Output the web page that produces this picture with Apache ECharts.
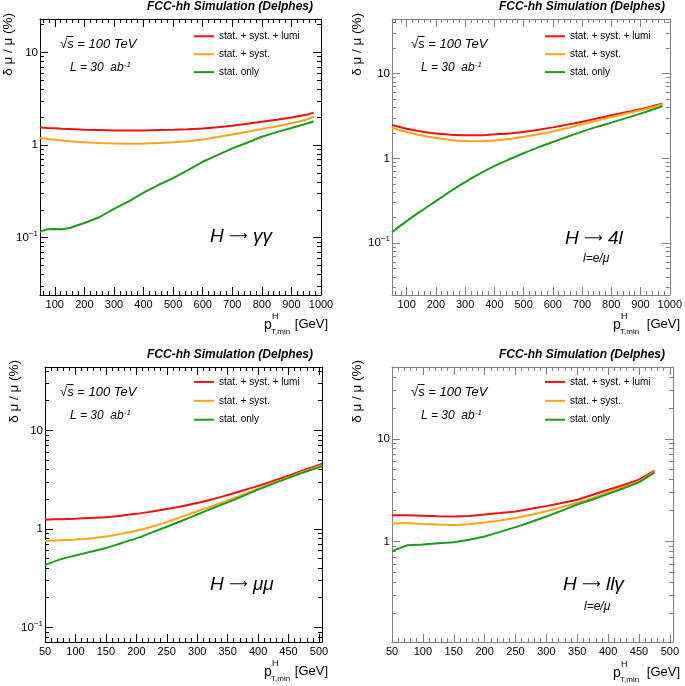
<!DOCTYPE html>
<html><head><meta charset="utf-8">
<script src="https://cdn.jsdelivr.net/npm/echarts@6/dist/echarts.min.js"></script>
<style>html,body{margin:0;padding:0;background:#fff}#c{width:685px;height:686px}</style>
</head><body><div id="c"></div><script>
// ---------- data ----------
const seriesNames = ['stat. + syst. + lumi', 'stat. + syst.', 'stat. only'];

// H -> gamma gamma
const xGG = [50,75,100,125,150,200,250,300,350,400,450,500,550,600,650,700,750,800,850,900,950,975];
const redGG = [1.55,1.53,1.52,1.50,1.49,1.46,1.45,1.44,1.44,1.44,1.45,1.46,1.48,1.51,1.56,1.62,1.70,1.79,1.88,1.98,2.12,2.24];
const orangeGG = [1.19,1.16,1.14,1.12,1.10,1.07,1.05,1.04,1.035,1.04,1.05,1.07,1.10,1.15,1.22,1.30,1.39,1.49,1.60,1.72,1.88,2.02];
const greenGG = [0.116,0.123,0.124,0.123,0.127,0.144,0.166,0.204,0.247,0.306,0.37,0.44,0.537,0.66,0.78,0.92,1.06,1.23,1.38,1.53,1.70,1.80];

// H -> 4l
const x4l = [50,100,150,200,250,300,350,400,450,500,550,600,650,700,750,800,850,900,950,975];
const red4l = [2.48,2.24,2.08,1.96,1.90,1.87,1.87,1.92,1.97,2.05,2.17,2.32,2.50,2.71,2.95,3.22,3.50,3.79,4.20,4.45];
const orange4l = [2.28,2.05,1.87,1.74,1.65,1.60,1.59,1.62,1.69,1.80,1.93,2.08,2.28,2.52,2.78,3.08,3.38,3.69,4.10,4.34];
const green4l = [0.135,0.182,0.24,0.313,0.41,0.525,0.66,0.81,0.97,1.15,1.35,1.56,1.80,2.07,2.35,2.64,2.98,3.37,3.85,4.15];

// H -> mu mu
const xMM = [50,75,100,125,150,175,200,225,250,275,300,325,350,375,400,425,450,475,505];
const redMM = [1.24,1.255,1.27,1.29,1.31,1.36,1.42,1.50,1.59,1.70,1.83,2.00,2.21,2.45,2.73,3.07,3.47,3.95,4.56];
const orangeMM = [0.755,0.765,0.78,0.80,0.836,0.89,0.955,1.05,1.17,1.33,1.51,1.71,1.94,2.23,2.56,2.93,3.34,3.83,4.42];
const greenMM = [0.43,0.49,0.537,0.585,0.64,0.715,0.80,0.915,1.05,1.21,1.40,1.62,1.86,2.15,2.50,2.88,3.29,3.75,4.32];

// H -> ll gamma
const xLLG = [50,75,100,125,150,175,200,225,250,275,300,325,350,375,400,425,450,475];
const redLLG = [1.80,1.80,1.78,1.76,1.75,1.77,1.83,1.89,1.96,2.08,2.21,2.37,2.55,2.85,3.19,3.55,4.00,4.90];
const orangeLLG = [1.50,1.51,1.48,1.46,1.45,1.47,1.53,1.60,1.69,1.82,1.97,2.16,2.38,2.66,3.02,3.40,3.84,4.81];
const greenLLG = [0.805,0.92,0.935,0.96,0.985,1.04,1.12,1.24,1.38,1.55,1.75,2.00,2.29,2.56,2.91,3.30,3.76,4.70];

// tick labels
const xLabelsWide = [100,200,300,400,500,600,700,800,900,1000];
const xLabelsNarrow = [50,100,150,200,250,300,350,400,450,500];
const yDecades = [0.1, 1, 10];

// ---------- helpers ----------
const FONT = '"Liberation Sans", Arial, Helvetica, sans-serif';
const colors = ['#ee1111', '#ffa31a', '#1e9a1e'];

function minorsBetween(min, max, step, majorStep) {
  const out = [];
  for (let v = Math.ceil(min / step) * step; v <= max + 1e-9; v += step) {
    if (Math.abs(v / majorStep - Math.round(v / majorStep)) > 1e-6) out.push(+v.toFixed(6));
  }
  return out;
}
function logMinors(min, max) {
  const out = [];
  for (let e = -3; e <= 3; e++) for (let m = 2; m <= 9; m++) {
    const v = m * Math.pow(10, e);
    if (v >= min && v <= max) out.push(+v.toPrecision(6));
  }
  return out;
}

const panels = [
  { grid: {left: 40, top: 19, width: 281, height: 276}, xMin: 50, xMax: 1000, xMajor: xLabelsWide, minorStep: 20, majorStep: 100,
    yMin: 0.024, yMax: 23, frame: '#000', smooth: false,
    x: xGG, ys: [redGG, orangeGG, greenGG],
    titleX: 313, titleY: 7, sX: 60, sY: 44, lX: 70, lY: 68,
    legend: {left: 193, top: 30.7, gap: 6.7},
    decay: ['H', 'γγ'], decayX: 210, decayY: 237, sub: null,
    yTitleX: 8.5, yTitleY: 13, pX: 264, pY: 325, gevR: 328 },
  { grid: {left: 392, top: 19, width: 280, height: 276}, xMin: 50, xMax: 1000, xMajor: xLabelsWide, minorStep: 20, majorStep: 100,
    yMin: 0.0245, yMax: 44, frame: '#808080', smooth: 0.3,
    x: x4l, ys: [red4l, orange4l, green4l],
    titleX: 665, titleY: 7, sX: 411, sY: 44, lX: 421, lY: 68,
    legend: {left: 544, top: 30.7, gap: 6.7},
    decay: ['H', '4l'], decayX: 565, decayY: 239, sub: 'l=e/μ', subX: 583, subY: 259,
    yTitleX: 357.5, yTitleY: 13, pX: 613, pY: 325, gevR: 680 },
  { grid: {left: 45, top: 367, width: 277, height: 275}, xMin: 50, xMax: 505, xMajor: xLabelsNarrow, minorStep: 10, majorStep: 50,
    yMin: 0.071, yMax: 44, frame: '#000', smooth: 0.3,
    x: xMM, ys: [redMM, orangeMM, greenMM],
    titleX: 313, titleY: 355, sX: 60, sY: 392, lX: 70, lY: 416,
    legend: {left: 193, top: 376.3, gap: 7.7},
    decay: ['H', 'μμ'], decayX: 210, decayY: 585, sub: null,
    yTitleX: 14.5, yTitleY: 360, pX: 264, pY: 672, gevR: 328 },
  { grid: {left: 392, top: 367, width: 281, height: 275}, xMin: 50, xMax: 505, xMajor: xLabelsNarrow, minorStep: 10, majorStep: 50,
    yMin: 0.105, yMax: 50, frame: '#808080', smooth: false,
    x: xLLG, ys: [redLLG, orangeLLG, greenLLG],
    titleX: 665, titleY: 355, sX: 411, sY: 392, lX: 421, lY: 416,
    legend: {left: 544, top: 376.3, gap: 7.7},
    decay: ['H', 'llγ'], decayX: 563, decayY: 585, sub: 'l=e/μ', subX: 584, subY: 607,
    yTitleX: 357.5, yTitleY: 360, pX: 613, pY: 673, gevR: 680 }
];

const grids = [], xAxes = [], yAxes = [], series = [], legends = [], graphics = [];

function yFmt(v) {
  const e = Math.round(Math.log10(v));
  if (e === 0) return '1';
  if (e === 1) return '10';
  return '{b|10}{s|−' + (-e) + '}';
}

panels.forEach((p, gi) => {
  grids.push(Object.assign({containLabel: false}, p.grid));
  const xMinor = minorsBetween(p.xMin, p.xMax, p.minorStep, p.majorStep);
  const yMaj = yDecades.filter(v => v >= p.yMin && v <= p.yMax);
  const yMin = logMinors(p.yMin, p.yMax);
  const tick = (vals, len) => ({show: true, inside: true, length: len, customValues: vals, lineStyle: {color: p.frame, width: 1}});
  const xb = {gridIndex: gi, type: 'value', min: p.xMin, max: p.xMax, splitLine: {show: false}};
  const aline = {show: true, lineStyle: {color: p.frame, width: 1}};
  xAxes.push(
    Object.assign({}, xb, {position: 'bottom', axisLine: aline, axisTick: tick(p.xMajor, 8),
      axisLabel: {show: true, customValues: p.xMajor, margin: 4, fontSize: 11, color: '#000', fontFamily: FONT,
        formatter: v => String(Math.round(v))}}),
    Object.assign({}, xb, {position: 'bottom', axisLine: {show: false}, axisTick: tick(xMinor, 4), axisLabel: {show: false}}),
    Object.assign({}, xb, {position: 'top', axisLine: aline, axisTick: tick(p.xMajor, 8), axisLabel: {show: false}}),
    Object.assign({}, xb, {position: 'top', axisLine: {show: false}, axisTick: tick(xMinor, 4), axisLabel: {show: false}})
  );
  const yb = {gridIndex: gi, type: 'log', logBase: 10, min: p.yMin, max: p.yMax, splitLine: {show: false}, minorTick: {show: false}};
  yAxes.push(
    Object.assign({}, yb, {position: 'left', axisLine: aline, axisTick: tick(yMaj, 8),
      axisLabel: {show: true, customValues: yMaj, margin: 2, formatter: yFmt, fontSize: 11.5, color: '#000', fontFamily: FONT,
        rich: {b: {fontSize: 11.5, fontFamily: FONT, color: '#000'},
               s: {fontSize: 8, fontFamily: FONT, color: '#000', padding: [0, 0, 8, 0]}}}}),
    Object.assign({}, yb, {position: 'left', axisLine: {show: false}, axisTick: tick(yMin, 4), axisLabel: {show: false}}),
    Object.assign({}, yb, {position: 'right', axisLine: aline, axisTick: tick(yMaj, 8), axisLabel: {show: false}}),
    Object.assign({}, yb, {position: 'right', axisLine: {show: false}, axisTick: tick(yMin, 4), axisLabel: {show: false}})
  );
  p.ys.forEach((arr, si) => {
    series.push({
      name: seriesNames[si], type: 'line', xAxisIndex: gi * 4, yAxisIndex: gi * 4,
      data: p.x.map((xv, i) => [xv, arr[i]]), symbol: 'none', smooth: p.smooth,
      lineStyle: {color: colors[si], width: 2}, itemStyle: {color: colors[si]},
      clip: true, animation: false, silent: true
    });
  });
  legends.push({
    left: p.legend.left, top: p.legend.top, orient: 'vertical', padding: 0,
    itemWidth: 20, itemHeight: 14, itemGap: p.legend.gap, selectedMode: false,
    itemStyle: {opacity: 0}, lineStyle: {width: 2},
    textStyle: {fontSize: 10, fontFamily: FONT, color: '#000'}, data: seriesNames.slice()
  });
  // texts
  graphics.push(
    {type: 'text', x: p.titleX, y: p.titleY, style: {text: 'FCC-hh Simulation (Delphes)', font: 'italic bold 12px ' + FONT, fill: '#000', align: 'right', verticalAlign: 'middle'}},
    {type: 'text', x: p.sX, y: p.sY, style: {text: '√s = 100 TeV', font: 'italic 13px ' + FONT, fill: '#000', align: 'left', verticalAlign: 'middle'}},
    {type: 'line', shape: {x1: p.sX + 6.5, y1: p.sY - 7.5, x2: p.sX + 13.5, y2: p.sY - 7.5}, style: {stroke: '#000', lineWidth: 1}},
    {type: 'text', x: p.lX, y: p.lY, style: {text: '{a|L = 30  ab}{s|-1}', align: 'left', verticalAlign: 'middle',
      rich: {a: {font: 'italic 12px ' + FONT, fill: '#000'}, s: {font: 'italic 8px ' + FONT, fill: '#000', padding: [0, 0, 7, 0]}}}},
    {type: 'text', x: p.decayX, y: p.decayY, style: {text: '{h|' + p.decay[0] + ' }{a|⟶}{h| ' + p.decay[1] + '}', align: 'left', verticalAlign: 'middle',
      rich: {h: {font: 'italic 19px ' + FONT, fill: '#000'}, a: {font: '13px "DejaVu Sans", sans-serif', fill: '#000'}}}},
    {type: 'text', x: p.yTitleX, y: p.yTitleY, rotation: Math.PI / 2, style: {text: 'δ μ / μ (%)', font: '13.5px ' + FONT, fill: '#000', align: 'right', verticalAlign: 'middle'}},
    {type: 'text', x: p.pX, y: p.pY, style: {text: 'p', font: '14px ' + FONT, fill: '#000', align: 'left', verticalAlign: 'middle'}},
    {type: 'text', x: p.pX + 8, y: p.pY - 8, style: {text: 'H', font: '9px ' + FONT, fill: '#000', align: 'left', verticalAlign: 'middle'}},
    {type: 'text', x: p.pX + 7, y: p.pY + 7, style: {text: 'T,min', font: '8px ' + FONT, fill: '#000', align: 'left', verticalAlign: 'middle'}},
    {type: 'text', x: p.gevR, y: p.pY - 1, style: {text: '[GeV]', font: '13px ' + FONT, fill: '#000', align: 'right', verticalAlign: 'middle'}}
  );
  if (p.sub) graphics.push({type: 'text', x: p.subX, y: p.subY, style: {text: p.sub, font: 'italic 12px ' + FONT, fill: '#000', align: 'left', verticalAlign: 'middle'}});
});

const chart = echarts.init(document.getElementById('c'), null, {renderer: 'canvas'});
chart.setOption({
  backgroundColor: '#fff', animation: false,
  grid: grids, xAxis: xAxes, yAxis: yAxes, series: series, legend: legends, graphic: graphics
});
</script></body></html>
